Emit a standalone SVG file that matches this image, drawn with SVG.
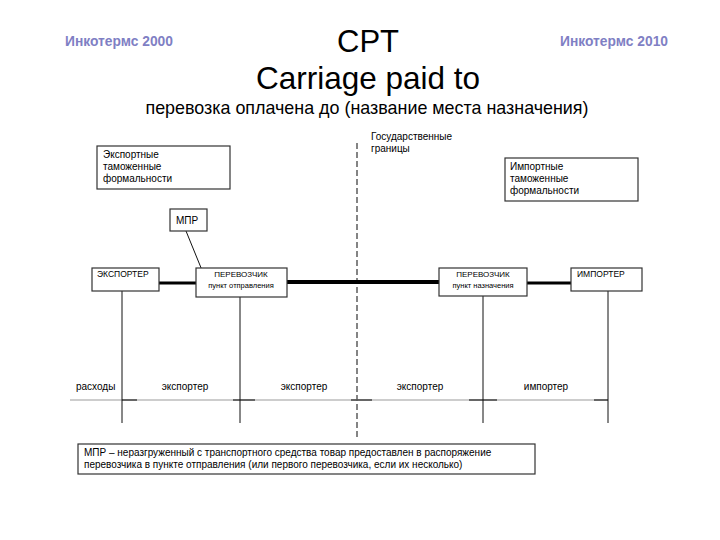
<svg xmlns="http://www.w3.org/2000/svg" width="720" height="540" viewBox="0 0 720 540">
<style>
text{font-family:"Liberation Sans",Arial,sans-serif;fill:#000}
.box{fill:#fff;stroke:#333;stroke-width:1.2}
.m{font-size:10px}
.inc{font-size:13.8px;font-weight:bold;fill:#7f7fc4}
.thin{stroke:#111;stroke-width:1;fill:none}
.tick{stroke:#222;stroke-width:1.2}
.note{font-size:10px}
</style>
<rect width="720" height="540" fill="#fff"/>
<g id="titles">
<text class="inc" x="65" y="46">Инкотермс 2000</text>
<text class="inc" x="668" y="46" text-anchor="end">Инкотермс 2010</text>
<text x="368" y="52" font-size="31" text-anchor="middle">CPT</text>
<text x="368" y="89" font-size="31.5" text-anchor="middle">Carriage paid to</text>
<text x="367" y="114" font-size="17.9" text-anchor="middle">перевозка оплачена до (название места назначения)</text>
</g>
<g id="border">
<line x1="357" y1="143" x2="357" y2="437" stroke="#666" stroke-width="1.6" stroke-dasharray="6,3"/>
<text class="m" x="371" y="140">Государственные</text>
<text class="m" x="371" y="152">границы</text>
</g>
<g id="connectors">
<line x1="159" y1="283" x2="196" y2="283" stroke="#000" stroke-width="3"/>
<line x1="287" y1="282" x2="439" y2="282" stroke="#000" stroke-width="4"/>
<line x1="527" y1="283" x2="571" y2="283" stroke="#000" stroke-width="3"/>
<line class="thin" x1="186" y1="231" x2="206" y2="280"/>
<line x1="70" y1="400" x2="608" y2="400" stroke="#bdbdbd" stroke-width="1.6"/>
<line class="tick" x1="122" y1="400" x2="137" y2="400"/>
<line class="tick" x1="233" y1="400" x2="255" y2="400"/>
<line class="tick" x1="351" y1="400" x2="372" y2="400"/>
<line class="tick" x1="469" y1="400" x2="497" y2="400"/>
<line class="tick" x1="594" y1="400" x2="608" y2="400"/>
<line class="thin" x1="122" y1="291" x2="122" y2="423"/>
<line class="thin" x1="240" y1="297" x2="240" y2="423"/>
<line class="thin" x1="483" y1="296" x2="483" y2="423"/>
<line class="thin" x1="608" y1="291" x2="608" y2="423"/>
</g>
<g id="export-formalities">
<rect class="box" x="97" y="146" width="133" height="43"/>
<text class="m" x="103" y="158">Экспортные</text>
<text class="m" x="103" y="170">таможенные</text>
<text class="m" x="103" y="182">формальности</text>
</g>
<g id="import-formalities">
<rect class="box" x="505" y="158" width="133" height="43"/>
<text class="m" x="510" y="170">Импортные</text>
<text class="m" x="510" y="182">таможенные</text>
<text class="m" x="510" y="194">формальности</text>
</g>
<g id="mpr">
<rect class="box" x="170" y="209" width="37" height="22"/>
<text class="m" x="176" y="224">МПР</text>
</g>
<g id="exporter">
<rect class="box" x="92" y="268" width="67" height="23"/>
<text x="97" y="277" font-size="8.5">ЭКСПОРТЕР</text>
</g>
<g id="carrier-departure">
<rect class="box" x="196" y="268" width="91" height="29"/>
<text x="241" y="277" font-size="8" text-anchor="middle">ПЕРЕВОЗЧИК</text>
<text x="241" y="288" font-size="7.5" text-anchor="middle">пункт отправления</text>
</g>
<g id="carrier-destination">
<rect class="box" x="439" y="268" width="88" height="28"/>
<text x="483" y="277" font-size="8" text-anchor="middle">ПЕРЕВОЗЧИК</text>
<text x="483" y="288" font-size="7.5" text-anchor="middle">пункт назначения</text>
</g>
<g id="importer">
<rect class="box" x="571" y="268" width="71" height="23"/>
<text x="577" y="277" font-size="8.5">ИМПОРТЕР</text>
</g>
<g id="costs">
<text class="m" x="76" y="390">расходы</text>
<text class="m" x="185" y="390" text-anchor="middle">экспортер</text>
<text class="m" x="304" y="390" text-anchor="middle">экспортер</text>
<text class="m" x="420" y="390" text-anchor="middle">экспортер</text>
<text class="m" x="546" y="390" text-anchor="middle">импортер</text>
</g>
<g id="note">
<rect class="box" x="78" y="444" width="457" height="30"/>
<text class="note" x="84" y="456">МПР – неразгруженный с транспортного средства товар предоставлен в распоряжение</text>
<text class="note" x="84" y="468">перевозчика  в пункте отправления (или первого перевозчика, если их несколько)</text>
</g>
</svg>
